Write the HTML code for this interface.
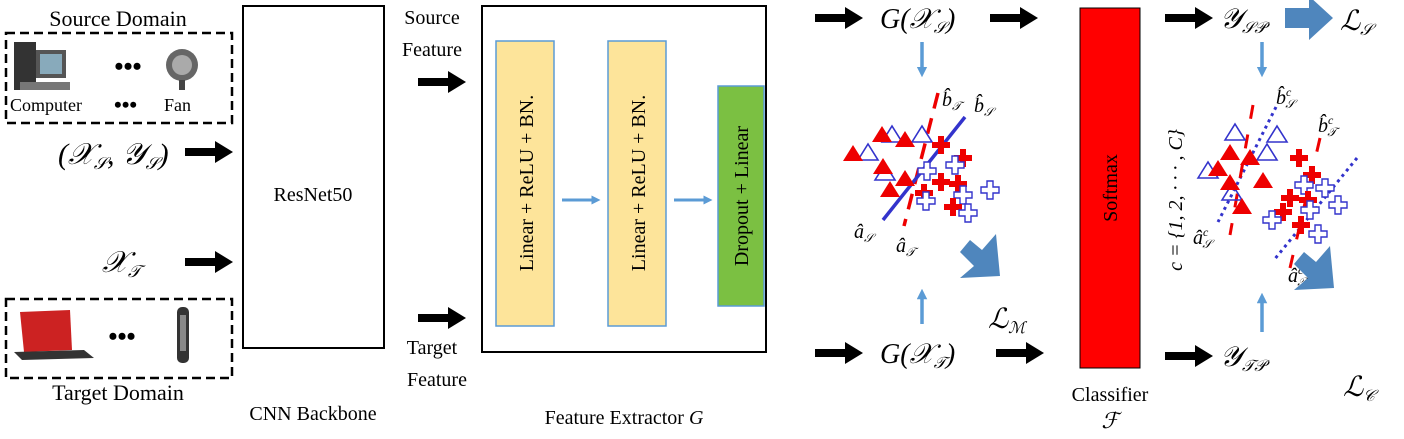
<!DOCTYPE html>
<html><head><meta charset="utf-8"><style>
body{margin:0;background:#fff}
svg text{font-family:"Liberation Serif",serif;fill:#000}
</style></head><body>
<svg width="1404" height="434" viewBox="0 0 1404 434" xmlns="http://www.w3.org/2000/svg">
<defs>
<marker id="ba" markerWidth="3" markerHeight="3" refX="1.5" refY="1.5" orient="auto"><path d="M0,0L3,1.5L0,3z" fill="#5b9bd5"/></marker>
<g id="bk"><rect x="0" y="-4" width="34" height="8" fill="#000"/><path d="M30,-11L48,0L30,11z" fill="#000"/></g>
<g id="tri"><path d="M0,0L10,-16L20,0z" fill="#e00"/></g>
<g id="otri"><path d="M0,0L10,-16L20,0z" fill="none" stroke="#33c" stroke-width="1.6"/></g>
<g id="pl"><path d="M-3,-9h6v6h6v6h-6v6h-6v-6h-6v-6h6z" fill="#e00"/></g>
<g id="opl"><path d="M-3,-9h6v6h6v6h-6v6h-6v-6h-6v-6h6z" fill="#fff" stroke="#33c" stroke-width="1.4"/></g>
<g id="bigarrow"><path d="M0,-4L10,-16L22,-6L36,-22L40,20L0,22L14,10z" fill="#4f86bd"/></g>
</defs>
<!-- Source domain -->
<text x="118" y="26" font-size="22" text-anchor="middle">Source Domain</text>
<rect x="6" y="33" width="226" height="90" fill="none" stroke="#000" stroke-width="2.5" stroke-dasharray="9,5"/>
<rect x="14" y="42" width="22" height="48" fill="#333"/><rect x="36" y="50" width="30" height="28" fill="#555"/><rect x="40" y="54" width="22" height="20" fill="#8ab"/><rect x="20" y="82" width="50" height="8" fill="#777"/>
<text x="128" y="75" font-size="26" text-anchor="middle" font-weight="bold">•••</text>
<circle cx="182" cy="65" r="16" fill="#666"/><circle cx="182" cy="65" r="10" fill="#aaa"/><rect x="179" y="80" width="6" height="10" fill="#444"/>
<text x="10" y="111" font-size="18">Computer</text>
<text x="114" y="112" font-size="22" font-weight="bold">•••</text>
<text x="164" y="111" font-size="18">Fan</text>
<!-- inputs -->
<text x="58" y="164" font-size="30" font-style="italic">(𝒳<tspan font-size="17" dy="5">𝒮</tspan><tspan dy="-5">, 𝒴</tspan><tspan font-size="17" dy="5">𝒮</tspan><tspan dy="-5">)</tspan></text>
<use href="#bk" x="185" y="152"/>
<text x="102" y="272" font-size="30" font-style="italic">𝒳<tspan font-size="17" dy="5">𝒯</tspan></text>
<use href="#bk" x="185" y="262"/>
<!-- Target domain -->
<rect x="6" y="299" width="226" height="79" fill="none" stroke="#000" stroke-width="2.5" stroke-dasharray="9,5"/>
<path d="M20,312L70,310L72,350L24,352z" fill="#c22"/><path d="M14,352L84,350L94,358L22,360z" fill="#333"/>
<text x="122" y="345" font-size="26" text-anchor="middle" font-weight="bold">•••</text>
<rect x="177" y="307" width="12" height="56" rx="5" fill="#333"/><rect x="180" y="315" width="6" height="36" fill="#888"/>
<text x="118" y="400" font-size="22" text-anchor="middle">Target Domain</text>
<!-- ResNet -->
<rect x="243" y="6" width="141" height="342" fill="none" stroke="#000" stroke-width="2"/>
<text x="313" y="201" font-size="20" text-anchor="middle">ResNet50</text>
<text x="313" y="420" font-size="20" text-anchor="middle">CNN Backbone</text>
<text x="432" y="24" font-size="20" text-anchor="middle">Source</text>
<text x="432" y="56" font-size="20" text-anchor="middle">Feature</text>
<use href="#bk" x="418" y="82"/>
<use href="#bk" x="418" y="318"/>
<text x="432" y="354" font-size="20" text-anchor="middle">Target</text>
<text x="437" y="386" font-size="20" text-anchor="middle">Feature</text>
<!-- Feature extractor -->
<rect x="482" y="6" width="284" height="346" fill="none" stroke="#000" stroke-width="2"/>
<rect x="496" y="41" width="58" height="285" fill="#fde49a" stroke="#5b9bd5" stroke-width="1.5"/>
<rect x="608" y="41" width="58" height="285" fill="#fde49a" stroke="#5b9bd5" stroke-width="1.5"/>
<rect x="718" y="86" width="46" height="220" fill="#7bc042" stroke="#5b9bd5" stroke-width="1.5"/>
<text transform="translate(533,183) rotate(-90)" font-size="20" text-anchor="middle">Linear + ReLU + BN.</text>
<text transform="translate(645,183) rotate(-90)" font-size="20" text-anchor="middle">Linear + ReLU + BN.</text>
<text transform="translate(748,196) rotate(-90)" font-size="20" text-anchor="middle">Dropout + Linear</text>
<line x1="562" y1="200" x2="596" y2="200" stroke="#5b9bd5" stroke-width="3" marker-end="url(#ba)"/>
<line x1="674" y1="200" x2="708" y2="200" stroke="#5b9bd5" stroke-width="3" marker-end="url(#ba)"/>
<text x="624" y="424" font-size="20" text-anchor="middle">Feature Extractor <tspan font-style="italic">G</tspan></text>
<!-- G outputs -->
<use href="#bk" x="815" y="18"/>
<text x="880" y="28" font-size="28" font-style="italic">G(𝒳<tspan font-size="16" dy="5">𝒮</tspan><tspan dy="-5">)</tspan></text>
<use href="#bk" x="990" y="18"/>
<use href="#bk" x="815" y="353"/>
<text x="880" y="363" font-size="28" font-style="italic">G(𝒳<tspan font-size="16" dy="5">𝒯</tspan><tspan dy="-5">)</tspan></text>
<use href="#bk" x="996" y="353"/>
<line x1="922" y1="42" x2="922" y2="72" stroke="#5b9bd5" stroke-width="3.5" marker-end="url(#ba)"/>
<line x1="922" y1="324" x2="922" y2="294" stroke="#5b9bd5" stroke-width="3.5" marker-end="url(#ba)"/>
<!-- scatter 1 -->
<line x1="938" y1="93" x2="904" y2="226" stroke="#e00" stroke-width="3.5" stroke-dasharray="16,10"/>
<line x1="965" y1="117" x2="883" y2="220" stroke="#33c" stroke-width="3.5"/>
<use href="#otri" x="882" y="142"/><use href="#otri" x="912" y="142"/><use href="#otri" x="858" y="160"/><use href="#otri" x="875" y="180"/>
<use href="#tri" x="872" y="142"/><use href="#tri" x="895" y="147"/><use href="#tri" x="843" y="161"/><use href="#tri" x="873" y="174"/><use href="#tri" x="895" y="186"/><use href="#tri" x="880" y="197"/>
<use href="#pl" x="941" y="145"/><use href="#pl" x="963" y="158"/><use href="#opl" x="955" y="165"/><use href="#opl" x="927" y="171"/><use href="#pl" x="941" y="182"/><use href="#pl" x="958" y="184"/><use href="#opl" x="963" y="195"/><use href="#opl" x="990" y="190"/><use href="#pl" x="924" y="193"/><use href="#opl" x="926" y="201"/><use href="#pl" x="953" y="207"/><use href="#opl" x="968" y="213"/>
<text x="942" y="106" font-size="20" font-style="italic">b̂<tspan font-size="12" dy="4">𝒯</tspan></text>
<text x="974" y="112" font-size="20" font-style="italic">b̂<tspan font-size="12" dy="4">𝒮</tspan></text>
<text x="854" y="238" font-size="20" font-style="italic">â<tspan font-size="12" dy="4">𝒮</tspan></text>
<text x="896" y="252" font-size="20" font-style="italic">â<tspan font-size="12" dy="4">𝒯</tspan></text>
<use href="#bigarrow" x="960" y="256"/>
<text x="988" y="328" font-size="28" font-style="italic">ℒ<tspan font-size="16" dy="5">ℳ</tspan></text>
<!-- Softmax -->
<rect x="1080" y="8" width="60" height="360" fill="#f00" stroke="#000" stroke-width="1"/>
<text transform="translate(1117,188) rotate(-90)" font-size="20" text-anchor="middle">Softmax</text>
<text x="1110" y="401" font-size="20" text-anchor="middle">Classifier</text>
<text x="1110" y="428" font-size="22" text-anchor="middle" font-style="italic">ℱ</text>
<use href="#bk" x="1165" y="18"/>
<text x="1220" y="28" font-size="28" font-style="italic">𝒴<tspan font-size="16" dy="5">𝒮𝒫</tspan></text>
<path d="M1285,8h24v-12l24,22l-24,22v-12h-24z" fill="#4f86bd"/>
<text x="1340" y="30" font-size="28" font-style="italic">ℒ<tspan font-size="16" dy="5">𝒮</tspan></text>
<use href="#bk" x="1165" y="356"/>
<text x="1220" y="366" font-size="28" font-style="italic">𝒴<tspan font-size="16" dy="5">𝒯𝒫</tspan></text>
<text x="1343" y="396" font-size="28" font-style="italic">ℒ<tspan font-size="16" dy="5">𝒞</tspan></text>
<text transform="translate(1182,200) rotate(-90)" font-size="20" text-anchor="middle" font-style="italic">c = {1, 2, · · · , C}</text>
<line x1="1262" y1="42" x2="1262" y2="72" stroke="#5b9bd5" stroke-width="3.5" marker-end="url(#ba)"/>
<line x1="1262" y1="332" x2="1262" y2="298" stroke="#5b9bd5" stroke-width="3.5" marker-end="url(#ba)"/>
<!-- scatter 2 -->
<line x1="1276" y1="107" x2="1218" y2="222" stroke="#33c" stroke-width="3" stroke-dasharray="3,4"/>
<line x1="1357" y1="158" x2="1274" y2="260" stroke="#33c" stroke-width="3" stroke-dasharray="3,4"/>
<line x1="1253" y1="105" x2="1230" y2="235" stroke="#e00" stroke-width="3" stroke-dasharray="14,16"/>
<line x1="1320" y1="138" x2="1290" y2="268" stroke="#e00" stroke-width="3" stroke-dasharray="14,16"/>
<use href="#otri" x="1225" y="140"/><use href="#otri" x="1267" y="142"/><use href="#otri" x="1257" y="160"/><use href="#otri" x="1198" y="178"/><use href="#otri" x="1222" y="200"/>
<use href="#tri" x="1220" y="160"/><use href="#tri" x="1240" y="165"/><use href="#tri" x="1208" y="176"/><use href="#tri" x="1220" y="190"/><use href="#tri" x="1253" y="188"/><use href="#tri" x="1232" y="214"/>
<use href="#pl" x="1299" y="158"/><use href="#pl" x="1312" y="175"/><use href="#opl" x="1304" y="185"/><use href="#opl" x="1325" y="188"/><use href="#pl" x="1290" y="198"/><use href="#pl" x="1308" y="200"/><use href="#opl" x="1338" y="205"/><use href="#pl" x="1283" y="212"/><use href="#opl" x="1272" y="220"/><use href="#opl" x="1310" y="210"/><use href="#pl" x="1301" y="225"/><use href="#opl" x="1318" y="234"/>
<text x="1276" y="104" font-size="20" font-style="italic">b̂<tspan font-size="12" dy="-8">c</tspan><tspan font-size="12" dx="-6" dy="12">𝒮</tspan></text>
<text x="1318" y="132" font-size="20" font-style="italic">b̂<tspan font-size="12" dy="-8">c</tspan><tspan font-size="12" dx="-6" dy="12">𝒯</tspan></text>
<text x="1193" y="244" font-size="20" font-style="italic">â<tspan font-size="12" dy="-8">c</tspan><tspan font-size="12" dx="-6" dy="12">𝒮</tspan></text>
<text x="1288" y="282" font-size="20" font-style="italic">â<tspan font-size="12" dy="-8">c</tspan><tspan font-size="12" dx="-6" dy="12">𝒯</tspan></text>
<use href="#bigarrow" x="1294" y="268"/>
</svg>
</body></html>
